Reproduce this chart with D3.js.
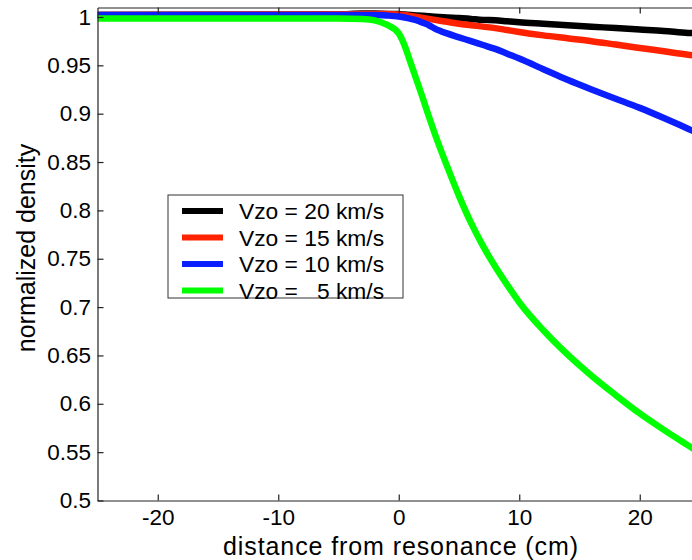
<!DOCTYPE html>
<html>
<head>
<meta charset="utf-8">
<script src="https://cdn.jsdelivr.net/npm/d3@7"></script>
<style>
  body { margin: 0; background: #fff; }
  text { font-family: "Liberation Sans", Arial, sans-serif; fill: #000; }
</style>
</head>
<body>
<div id="chart"></div>
<script>
// distance grid (cm) shared by all four runs
const distance = [-25, -5, -3, -2, -1, 0, 0.5, 1, 1.5, 2, 2.5, 3, 4, 5, 6, 7, 8, 9, 10, 12, 14, 16, 18, 20, 22, 24, 25]

// normalized density for each initial velocity
const v20 = [1.002, 1.0025, 1.0035, 1.0035, 1.0032, 1.003, 1.0025, 1.002, 1.0016, 1.0012, 1.0007, 1.0003, 0.9995, 0.999, 0.998, 0.997, 0.9965, 0.9955, 0.9945, 0.993, 0.9915, 0.990, 0.9885, 0.987, 0.9855, 0.9835, 0.983]
const v15 = [1.002, 1.0028, 1.003, 1.003, 1.003, 1.0025, 1.002, 1.001, 1.0, 0.999, 0.998, 0.997, 0.995, 0.993, 0.9915, 0.990, 0.9885, 0.9865, 0.9845, 0.981, 0.978, 0.975, 0.9715, 0.968, 0.9645, 0.961, 0.9595]
const v10 = [1.002, 1.002, 1.002, 1.002, 1.0015, 1.0005, 0.9995, 0.998, 0.9965, 0.994, 0.9915, 0.988, 0.983, 0.979, 0.975, 0.971, 0.967, 0.962, 0.957, 0.946, 0.935, 0.925, 0.9155, 0.906, 0.8955, 0.8845, 0.879]
const v5 = [0.9985, 0.9985, 0.998, 0.9965, 0.992, 0.983, 0.970, 0.952, 0.934, 0.916, 0.897, 0.879, 0.846, 0.815, 0.787, 0.763, 0.742, 0.723, 0.705, 0.676, 0.651, 0.629, 0.609, 0.590, 0.573, 0.557, 0.549]

const labels = ["Vzo = 20 km/s", "Vzo = 15 km/s", "Vzo = 10 km/s", "Vzo =   5 km/s"]
const colors = ["#000000", "#ff2200", "#0a1eff", "#00ff00"]
const series = [v20, v15, v10, v5]

const xTicks = [-20, -10, 0, 10, 20]
const yTicks = [0.5, 0.55, 0.6, 0.65, 0.7, 0.75, 0.8, 0.85, 0.9, 0.95, 1]

const width = 692
const height = 560
// plot box (right edge falls just outside the picture, as in the original)
const plotLeft = 97.5, plotRight = 700, plotTop = 7.5, plotBottom = 500.5

const xScale = d3.scaleLinear().domain([-25, 25]).range([plotLeft, plotRight])
const yScale = d3.scaleLinear().domain([0.5, 1.0098]).range([plotBottom, plotTop])

const svg = d3.select('#chart')
  .append('svg')
  .attr('width', width)
  .attr('height', height)

svg.append('defs').append('clipPath').attr('id', 'plotclip')
  .append('rect')
  .attr('x', plotLeft).attr('y', plotTop)
  .attr('width', plotRight - plotLeft).attr('height', plotBottom - plotTop)

// curves
const line = d3.line()
  .x((d, i) => xScale(distance[i]))
  .y(d => yScale(d))
  .curve(d3.curveMonotoneX)

svg.append('g')
  .attr('clip-path', 'url(#plotclip)')
  .selectAll('path')
  .data(series)
  .join('path')
  .attr('d', d => line(d))
  .attr('fill', 'none')
  .attr('stroke', (d, i) => colors[i])
  .attr('stroke-width', 6.5)
  .attr('stroke-linejoin', 'round')

// axes, ticks pointing inward like matlab
const axisColor = '#222'
const fmt = d => String(+d.toFixed(2))
const fontFam = '"Liberation Sans", Arial, sans-serif'

svg.append('g')
  .attr('transform', `translate(0 ${plotBottom})`)
  .call(d3.axisBottom(xScale).tickValues(xTicks).tickSizeInner(-6).tickSizeOuter(0).tickPadding(9).tickFormat(fmt))
  .call(g => g.selectAll('text').attr('font-size', 22.5).attr('font-family', fontFam))

svg.append('g')
  .attr('transform', `translate(0 ${plotTop})`)
  .call(d3.axisTop(xScale).tickValues(xTicks).tickSizeInner(-6).tickSizeOuter(0).tickFormat(''))

svg.append('g')
  .attr('transform', `translate(${plotLeft} 0)`)
  .call(d3.axisLeft(yScale).tickValues(yTicks).tickSizeInner(-6).tickSizeOuter(0).tickPadding(6.5).tickFormat(fmt))
  .call(g => g.selectAll('text').attr('font-size', 22.5).attr('font-family', fontFam))

svg.append('g')
  .attr('transform', `translate(${plotRight} 0)`)
  .call(d3.axisRight(yScale).tickValues(yTicks).tickSizeInner(-6).tickSizeOuter(0).tickFormat(''))

svg.selectAll('.domain, .tick line').attr('stroke', axisColor).attr('stroke-width', 1.2)

// axis titles
svg.append('text')
  .attr('x', 401)
  .attr('y', 554.5)
  .attr('text-anchor', 'middle')
  .attr('font-size', 25)
  .attr('letter-spacing', 0.9)
  .text('distance from resonance (cm)')

svg.append('text')
  .attr('transform', 'translate(35 248) rotate(-90)')
  .attr('text-anchor', 'middle')
  .attr('font-size', 25)
  .text('normalized density')

// legend
const legend = svg.append('g').attr('transform', 'translate(168 195)')
legend.append('rect')
  .attr('width', 235)
  .attr('height', 103)
  .attr('fill', '#fff')
  .attr('stroke', '#333')
  .attr('stroke-width', 1)

const rows = legend.selectAll('g.row')
  .data(labels)
  .join('g')
  .attr('class', 'row')
  .attr('transform', (d, i) => `translate(0 ${16 + i * 26.5})`)

rows.append('line')
  .attr('x1', 14).attr('x2', 55)
  .attr('stroke', (d, i) => colors[i])
  .attr('stroke-width', 6)

rows.append('text')
  .attr('x', 71)
  .attr('dy', '0.36em')
  .attr('font-size', 22.8)
  .style('white-space', 'pre')
  .text(d => d)
</script>
</body>
</html>
